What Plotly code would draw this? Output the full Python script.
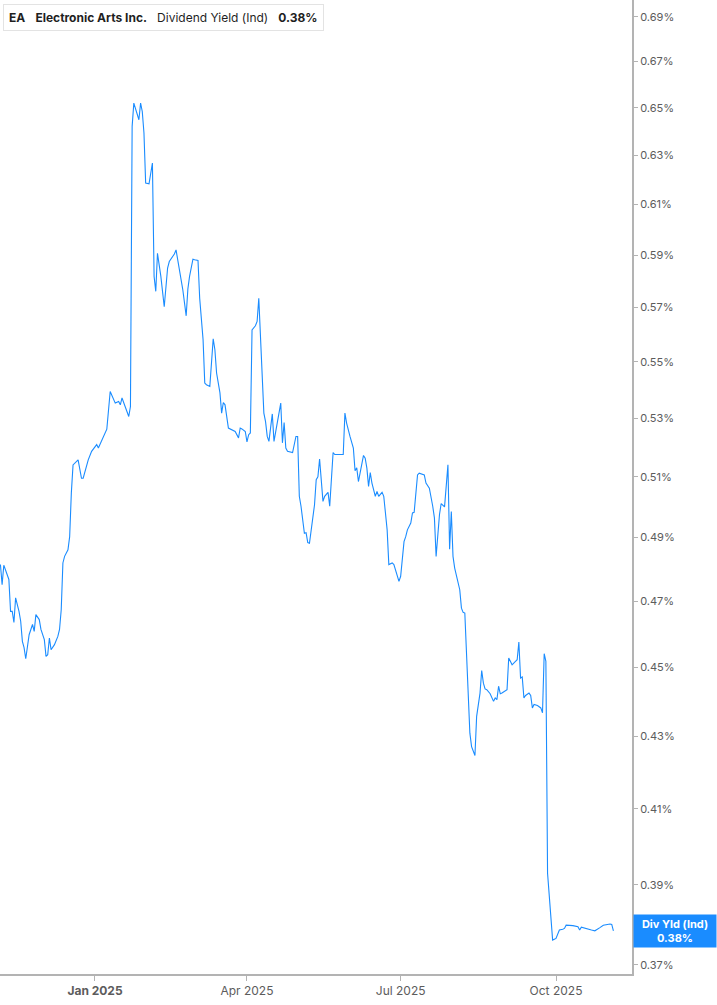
import math
import plotly.graph_objects as go

dates = [
"2024-11-06","2024-11-07","2024-11-08","2024-11-11","2024-11-12","2024-11-13","2024-11-14","2024-11-15",
"2024-11-17","2024-11-18","2024-11-19","2024-11-20","2024-11-21","2024-11-22","2024-11-23","2024-11-25",
"2024-11-26","2024-11-27","2024-11-29","2024-11-30","2024-12-02","2024-12-03","2024-12-04","2024-12-05",
"2024-12-06","2024-12-08","2024-12-10","2024-12-11","2024-12-12","2024-12-13","2024-12-14","2024-12-16",
"2024-12-17","2024-12-18","2024-12-19","2024-12-22","2024-12-24","2024-12-25","2024-12-27","2024-12-28",
"2024-12-30","2025-01-01","2025-01-02","2025-01-03","2025-01-04",
"2025-01-08","2025-01-10","2025-01-12","2025-01-13","2025-01-15","2025-01-16","2025-01-17","2025-01-18",
"2025-01-19","2025-01-20","2025-01-21","2025-01-22","2025-01-23","2025-01-24","2025-01-26","2025-01-27",
"2025-01-28","2025-01-29","2025-01-30","2025-01-31","2025-02-02","2025-02-04","2025-02-05","2025-02-06",
"2025-02-07","2025-02-09","2025-02-11","2025-02-13","2025-02-14","2025-02-17","2025-02-18","2025-02-20",
"2025-02-22","2025-02-24","2025-02-25","2025-02-26","2025-02-28","2025-03-01","2025-03-03","2025-03-04",
"2025-03-06","2025-03-07","2025-03-08","2025-03-10","2025-03-11","2025-03-12","2025-03-13","2025-03-14",
"2025-03-16","2025-03-17","2025-03-18","2025-03-19","2025-03-21","2025-03-23","2025-03-25","2025-03-27",
"2025-03-28","2025-03-29","2025-03-31","2025-04-01","2025-04-02","2025-04-03","2025-04-04","2025-04-06",
"2025-04-07","2025-04-08","2025-04-09","2025-04-11","2025-04-12","2025-04-13","2025-04-14","2025-04-16",
"2025-04-17","2025-04-19","2025-04-21","2025-04-22","2025-04-23","2025-04-24","2025-04-25","2025-04-28",
"2025-04-30","2025-05-01","2025-05-02","2025-05-03","2025-05-04","2025-05-05","2025-05-06","2025-05-07",
"2025-05-08","2025-05-10","2025-05-11","2025-05-12","2025-05-13","2025-05-14","2025-05-15","2025-05-16",
"2025-05-17","2025-05-19","2025-05-20","2025-05-22","2025-05-23","2025-05-28","2025-05-29","2025-05-30",
"2025-06-01","2025-06-03","2025-06-04","2025-06-05","2025-06-06","2025-06-08","2025-06-09","2025-06-10",
"2025-06-11","2025-06-12","2025-06-13","2025-06-14","2025-06-16","2025-06-17","2025-06-18","2025-06-20",
"2025-06-21","2025-06-22","2025-06-23","2025-06-24","2025-06-25","2025-06-26","2025-06-27","2025-06-29",
"2025-06-30","2025-07-01","2025-07-02","2025-07-03","2025-07-04","2025-07-05","2025-07-07","2025-07-08",
"2025-07-09","2025-07-11","2025-07-12","2025-07-13","2025-07-15","2025-07-16","2025-07-18","2025-07-20",
"2025-07-21","2025-07-22","2025-07-23","2025-07-24","2025-07-25","2025-07-26","2025-07-27","2025-07-29",
"2025-07-30","2025-07-31","2025-08-01","2025-08-02","2025-08-04","2025-08-05","2025-08-06","2025-08-07",
"2025-08-08","2025-08-09","2025-08-10","2025-08-11","2025-08-12","2025-08-14","2025-08-15","2025-08-17",
"2025-08-18","2025-08-19","2025-08-20","2025-08-21","2025-08-23","2025-08-24","2025-08-25","2025-08-26",
"2025-08-27","2025-08-28","2025-08-29","2025-08-30","2025-09-02","2025-09-03","2025-09-05","2025-09-07",
"2025-09-08","2025-09-09","2025-09-10","2025-09-11","2025-09-12","2025-09-13","2025-09-15","2025-09-16",
"2025-09-17","2025-09-18","2025-09-20","2025-09-22","2025-09-23","2025-09-24","2025-09-25","2025-09-26",
"2025-09-29","2025-10-01","2025-10-02","2025-10-03","2025-10-05","2025-10-06","2025-10-07","2025-10-09",
"2025-10-11","2025-10-14","2025-10-15","2025-10-16","2025-10-18","2025-10-20","2025-10-22","2025-10-24",
"2025-10-25","2025-10-27","2025-10-29","2025-10-31","2025-11-02","2025-11-03","2025-11-04",
]

div_yield = [
0.4814,0.4751,0.4812,0.4767,0.4668,0.4668,0.4634,0.4710,
0.4668,0.4638,0.4577,0.4558,0.4525,0.4562,0.4597,0.4628,
0.4607,0.4658,0.4643,0.4613,0.4582,0.4532,0.4537,0.4587,
0.4552,0.4567,0.4592,0.4613,0.4673,0.4819,0.4840,0.4861,
0.4903,0.5047,0.5140,0.5157,0.5095,0.5095,0.5135,0.5157,
0.5186,0.5203,0.5209,0.5197,0.5209,
0.5262,0.5394,0.5365,0.5353,0.5359,0.5347,0.5371,0.5353,
0.5335,0.5318,0.5306,0.5341,0.6421,0.6520,0.6470,0.6449,
0.6520,0.6484,0.6393,0.6186,0.6183,0.6268,0.5818,0.5761,
0.5907,0.5818,0.5703,0.5850,0.5875,0.5904,0.5920,0.5843,
0.5767,0.5669,0.5770,0.5818,0.5884,0.5882,0.5879,0.5735,
0.5581,0.5424,0.5418,0.5412,0.5507,0.5584,0.5544,0.5460,
0.5389,0.5318,0.5355,0.5347,0.5266,0.5260,0.5254,0.5232,
0.5266,0.5263,0.5254,0.5218,0.5243,0.5249,0.5617,0.5632,
0.5648,0.5735,0.5581,0.5318,0.5288,0.5237,0.5220,0.5315,
0.5220,0.5288,0.5353,0.5215,0.5285,0.5197,0.5186,0.5182,
0.5237,0.5237,0.5035,0.5002,0.4958,0.4914,0.4916,0.4884,
0.4882,0.4969,0.5007,0.5090,0.5100,0.5160,0.5095,0.5018,
0.5035,0.5048,0.5002,0.5182,0.5175,0.5175,0.5318,0.5283,
0.5237,0.5197,0.5120,0.5130,0.5084,0.5135,0.5172,0.5163,
0.5129,0.5068,0.5114,0.5079,0.5035,0.5051,0.5035,0.5048,
0.5035,0.4980,0.4925,0.4814,0.4816,0.4819,0.4814,0.4782,
0.4761,0.4777,0.4830,0.4887,0.4903,0.4925,0.4947,0.4980,
0.4982,0.5106,0.5112,0.5110,0.5106,0.5079,0.5062,0.5002,
0.4964,0.4840,0.4925,0.4975,0.5011,0.5007,0.5000,0.5140,
0.4863,0.4985,0.4840,0.4803,0.4761,0.4735,0.4678,0.4665,
0.4663,0.4532,0.4405,0.4309,0.4271,0.4246,0.4357,0.4424,
0.4490,0.4453,0.4436,0.4434,0.4422,0.4410,0.4400,0.4410,
0.4405,0.4444,0.4422,0.4424,0.4434,0.4527,0.4507,0.4517,
0.4522,0.4575,0.4468,0.4471,0.4410,0.4417,0.4424,0.4417,
0.4381,0.4391,0.4388,0.4381,0.4367,0.4540,0.4517,0.3930,
0.3761,0.3765,0.3778,0.3786,0.3788,0.3790,0.3798,0.3798,
0.3797,0.3794,0.3786,0.3793,0.3790,0.3788,0.3786,0.3784,
0.3786,0.3792,0.3798,0.3800,0.3801,0.3800,0.3784,
]

y_ticks = [0.37, 0.39, 0.41, 0.43, 0.45, 0.47, 0.49, 0.51, 0.53, 0.55, 0.57, 0.59, 0.61, 0.63, 0.65, 0.67, 0.69]
y_tick_labels = [f"{v:.2f}%" for v in y_ticks]
x_ticks = ["2025-01-01", "2025-04-01", "2025-07-01", "2025-10-01"]
x_tick_labels = ["<b>Jan 2025</b>", "Apr 2025", "Jul 2025", "Oct 2025"]

ticker = "EA"
company = "Electronic Arts Inc."
metric = "Dividend Yield (Ind)"
last_label = "0.38%"

LINE = "#1a8cff"
AXIS = "#b3b3b3"
TXT = "#5c5c5c"

fig = go.Figure()
fig.add_trace(go.Scatter(x=dates, y=div_yield, mode="lines",
                         line=dict(color=LINE, width=1.1), hoverinfo="skip"))

fig.update_layout(
    width=717, height=1005,
    margin=dict(l=0, r=85, t=0, b=31, pad=0),
    paper_bgcolor="white", plot_bgcolor="white",
    showlegend=False,
    font=dict(family="Inter, Roboto, sans-serif", size=11, color=TXT),
)

fig.update_xaxes(
    range=["2024-11-05 18:00", "2025-11-15"],
    tickvals=x_ticks, ticktext=x_tick_labels,
    showgrid=False, zeroline=False,
    showline=True, linecolor=AXIS, linewidth=2,
    ticks="outside", ticklen=5, tickcolor=AXIS, tickwidth=1,
    tickfont=dict(size=12, color=TXT),
)
fig.update_yaxes(
    type="log", side="right",
    range=[-0.43438, -0.15633],
    tickvals=y_ticks, ticktext=y_tick_labels,
    showgrid=False, zeroline=False,
    showline=True, linecolor=AXIS, linewidth=2,
    ticks="outside", ticklen=4, tickcolor=AXIS, tickwidth=1,
    tickfont=dict(size=11, color=TXT),
)

# header legend box
fig.add_annotation(
    xref="paper", yref="paper", x=0, y=1, xanchor="left", yanchor="top",
    xshift=3, yshift=-4,
    text=f"<b>{ticker}</b>&nbsp;&nbsp;&nbsp;<b>{company}</b>&nbsp;&nbsp;&nbsp;{metric}&nbsp;&nbsp;&nbsp;<b>{last_label}</b>",
    showarrow=False, align="left",
    font=dict(family="Inter, Roboto, sans-serif", size=12, color="#1f1f1f"),
    bgcolor="white", bordercolor="#e3e3e3", borderwidth=1, borderpad=5,
)
fig.add_shape(type="rect", xref="paper", yref="paper", xsizemode="pixel", ysizemode="pixel",
              xanchor=0, yanchor=1, x0=3, x1=6, y0=-5, y1=-29,
              fillcolor=LINE, line=dict(width=0))

# last value label on the right axis
fig.add_annotation(
    xref="paper", yref="y", x=1, y=math.log10(div_yield[-1]),
    xanchor="left", yanchor="middle", xshift=1,
    text=f"<b>Div Yld (Ind)</b><br><b>{last_label}</b>",
    showarrow=False, align="center", width=78,
    font=dict(family="Inter, Roboto, sans-serif", size=11, color="white"),
    bgcolor=LINE, borderpad=2,
)

fig.write_html("out.html", config={"displayModeBar": False},
               post_script="document.body.style.margin='0px';document.body.style.overflow='hidden';")
